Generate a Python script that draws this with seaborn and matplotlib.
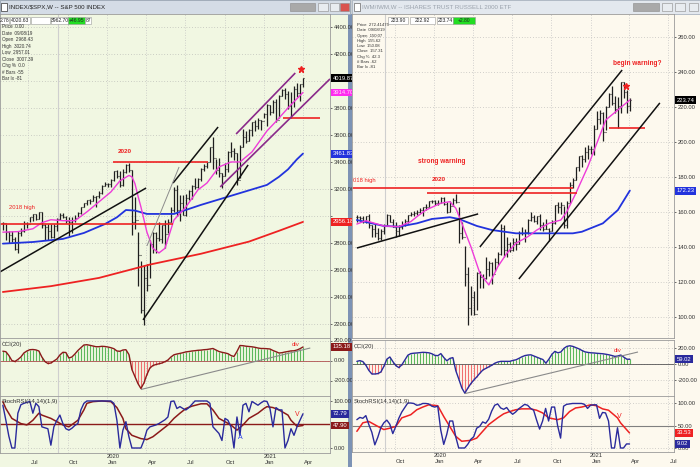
import pandas as pd
import matplotlib
matplotlib.use("Agg")
import matplotlib.pyplot as plt
import matplotlib.transforms as mtransforms
from matplotlib.patches import Rectangle
import seaborn as sns

# ---------------- data (weekly bars) ----------------
spx_dates = pd.date_range("2019-05-03", periods=101, freq="W-FRI")
iwm_dates = pd.date_range("2019-07-05", periods=92, freq="W-FRI")

spx_high = [2954, 2938, 2892, 2891, 2841, 2885, 2910, 2964, 2955, 2996,
            3017, 3018, 3028, 3027, 2944, 2943, 2939, 2940, 2985, 3021,
            3022, 3002, 2993, 2993, 3008, 3027, 3067, 3098, 3120, 3127,
            3154, 3150, 3183, 3226, 3248, 3247, 3276, 3330, 3337, 3333,
            3347, 3385, 3393, 3337, 3137, 2882, 2669, 2637, 2641, 2819,
            2880, 2879, 2955, 2933, 2968, 2981, 3068, 3211, 3233, 3156,
            3154, 3165, 3189, 3233, 3280, 3279, 3352, 3388, 3399, 3509,
            3588, 3425, 3429, 3320, 3393, 3482, 3550, 3502, 3465, 3529,
            3646, 3628, 3645, 3699, 3712, 3726, 3711, 3760, 3826, 3820,
            3861, 3870, 3894, 3937, 3950, 3928, 3915, 3960, 3983, 3978,
            4021]
spx_low = [2898, 2825, 2801, 2805, 2750, 2728, 2855, 2880, 2912, 2952,
           2966, 2970, 2976, 2914, 2822, 2825, 2834, 2836, 2892, 2969,
           2985, 2946, 2855, 2874, 2952, 2991, 3014, 3066, 3078, 3091,
           3113, 3070, 3134, 3166, 3221, 3213, 3215, 3258, 3281, 3214,
           3223, 3316, 3328, 2856, 2902, 2478, 2281, 2192, 2447, 2538,
           2727, 2727, 2816, 2797, 2766, 2871, 2957, 3031, 2999, 2965,
           3004, 2999, 3115, 3128, 3200, 3205, 3260, 3330, 3355, 3397,
           3349, 3310, 3292, 3209, 3297, 3323, 3440, 3415, 3233, 3279,
           3511, 3543, 3554, 3594, 3633, 3647, 3636, 3723, 3663, 3749,
           3764, 3694, 3725, 3885, 3865, 3789, 3723, 3805, 3884, 3854,
           3955]
spx_close = [2946, 2881, 2860, 2826, 2752, 2873, 2887, 2950, 2942, 2990,
             3014, 2977, 3026, 2932, 2919, 2889, 2847, 2926, 2979, 3007,
             2992, 2962, 2952, 2970, 2986, 3023, 3067, 3093, 3120, 3110,
             3141, 3146, 3169, 3221, 3240, 3235, 3265, 3330, 3295, 3226,
             3328, 3380, 3338, 2954, 2972, 2711, 2305, 2541, 2489, 2790,
             2875, 2837, 2831, 2930, 2864, 2955, 3044, 3194, 3041, 3098,
             3009, 3130, 3185, 3225, 3216, 3271, 3351, 3373, 3397, 3508,
             3427, 3341, 3319, 3298, 3348, 3477, 3484, 3465, 3270, 3510,
             3585, 3558, 3638, 3699, 3663, 3709, 3703, 3756, 3825, 3768,
             3841, 3714, 3887, 3934, 3907, 3811, 3842, 3943, 3913, 3975,
             4020]

spx_ma10_wk = [0, 5, 10, 13, 16, 20, 24, 28, 32, 36, 39, 42, 43, 44, 45, 46, 48,
               50, 52, 54, 56, 57, 61, 65, 68, 72, 76, 79, 83, 88, 91, 95, 100]
spx_ma10 = [2880, 2884, 2905, 2950, 2972, 2965, 2965, 3030, 3104, 3178, 3260, 3300,
            3290, 3240, 3150, 3067, 2880, 2760, 2726, 2760, 2900, 2970, 3067, 3193,
            3244, 3363, 3400, 3400, 3474, 3630, 3700, 3800, 3915]
spx_ma40_wk = [0, 10, 20, 27, 34, 38, 41, 44, 48, 57, 66, 77, 88, 92, 95, 98, 100]
spx_ma40 = [2795, 2807, 2830, 2874, 2940, 2990, 3044, 3040, 3015, 3015, 3082, 3156,
            3230, 3290, 3345, 3420, 3462]
spx_ma200_wk = [0, 16, 32, 49, 66, 82, 92, 100]
spx_ma200 = [2437, 2480, 2541, 2640, 2720, 2810, 2890, 2956]

spx_cci = [93, 88, 50, 0, -10, 10, 35, 75, 95, 108,
           110, 106, 95, 35, -10, -30, -25, -5, 15, 55,
           82, 80, 25, 35, 65, 100, 128, 155, 158, 152,
           145, 138, 138, 142, 140, 135, 128, 118, 95, 92,
           105, 108, 60, -90, -160, -230, -280, -225, -140, -75,
           -50, -40, -33, -25, -12, 5, 35, 57, 65, 71,
           78, 86, 90, 95, 98, 102, 104, 108, 110, 115,
           120, 105, 90, 82, 76, 68, 50, 40, 90, 150,
           148, 143, 140, 137, 132, 125, 120, 120, 118, 115,
           100, 88, 75, 78, 85, 90, 96, 97, 105, 118,
           135.18]
spx_k = [91, 59, 25, 0, 0, 74, 92, 95, 97, 99,
         74, 95, 88, 45, 43, 41, 6, 45, 59, 70,
         52, 41, 38, 42, 48, 52, 81, 95, 100, 100,
         100, 100, 100, 100, 100, 100, 100, 95, 59, 0,
         38, 56, 24, 0, 0, 0, 0, 16, 38, 45,
         47, 49, 52, 56, 60, 66, 99, 100, 84, 88,
         84, 81, 86, 93, 100, 100, 100, 100, 100, 95,
         45, 38, 31, 16, 63, 59, 45, 0, 66, 27,
         91, 95, 77, 99, 95, 91, 96, 100, 99, 84,
         45, 86, 81, 81, 0, 16, 41, 27, 45, 59,
         72.79]
spx_d_wk = [0, 1, 3, 6, 8, 10, 12, 13, 16, 18, 20, 22, 25, 27, 28, 30, 33, 36, 38, 40,
            41, 43, 46, 48, 50, 52, 55, 57, 59, 61, 63, 66, 68, 70, 72, 76, 78, 80,
            82, 85, 87, 88, 90, 92, 95, 96, 98, 100]
spx_d = [98.6, 84, 63, 52, 49, 59, 74, 70, 63, 56, 49, 45, 59, 81, 95, 98.6, 100, 98.6,
         86, 63, 41, 27, 20, 18, 24, 34, 49, 63, 74, 84, 89, 94, 94, 81, 63, 49, 38, 49,
         63, 74, 84, 88, 86, 81, 70, 59, 46, 47.9]

iwm_high = [158.0, 157.6, 157.8, 157.8, 158.6, 152.5, 153.0, 151.0, 150.0, 153.0,
            158.6, 158.5, 156.0, 154.0, 152.5, 154.8, 155.8, 158.3, 160.0, 160.8,
            161.3, 162.5, 162.9, 164.4, 166.2, 167.1, 167.0, 166.8, 168.5, 168.8,
            165.5, 166.2, 167.8, 170.0, 163.0, 154.5, 140.5, 128.3, 117.5, 115.0,
            125.5, 126.5, 124.5, 134.0, 132.0, 131.5, 133.8, 137.0, 153.0, 152.5,
            145.9, 143.0, 145.0, 145.2, 149.0, 151.2, 150.0, 156.1, 160.0, 158.4,
            157.9, 158.7, 154.3, 155.7, 150.6, 155.3, 163.9, 165.5, 165.7, 163.4,
            166.0, 176.9, 179.5, 185.8, 191.8, 192.7, 197.3, 198.3, 197.5, 209.8,
            217.9, 218.0, 217.0, 220.7, 228.1, 231.9, 226.2, 225.4, 234.5, 234.0,
            229.5, 224.9]
iwm_low = [154.5, 154.6, 153.8, 153.8, 151.0, 145.5, 145.5, 144.2, 144.0, 147.3,
           152.0, 154.0, 151.5, 145.8, 146.5, 150.2, 151.8, 153.5, 157.5, 157.8,
           158.0, 159.4, 157.7, 161.0, 163.0, 165.0, 163.9, 163.8, 164.9, 163.9,
           159.4, 160.1, 163.3, 165.3, 142.3, 144.5, 117.5, 95.7, 101.0, 101.0,
           104.0, 116.7, 116.3, 121.6, 123.3, 118.8, 126.0, 129.5, 135.5, 134.5,
           134.5, 136.9, 137.5, 138.3, 141.6, 146.6, 143.1, 147.4, 154.7, 154.3,
           153.2, 149.5, 149.0, 150.2, 143.3, 149.0, 153.4, 159.6, 159.0, 151.1,
           150.9, 165.2, 173.6, 178.3, 183.5, 185.5, 188.6, 190.4, 193.3, 192.7,
           207.6, 210.0, 200.5, 206.7, 219.8, 221.0, 216.8, 208.0, 216.7, 224.9,
           216.4, 217.5]
iwm_close = [157.3, 156.6, 154.6, 157.6, 152.4, 150.2, 147.9, 144.9, 149.0, 152.2,
             158.0, 154.5, 151.6, 149.0, 151.3, 153.0, 155.1, 158.0, 158.8, 159.4,
             159.8, 161.0, 162.6, 162.6, 166.0, 166.4, 165.3, 165.1, 167.9, 164.7,
             159.9, 163.4, 167.0, 165.6, 147.9, 145.6, 124.5, 105.3, 111.4, 101.5,
             125.2, 123.1, 122.0, 127.7, 131.0, 124.5, 131.5, 136.0, 151.0, 138.2,
             141.5, 138.3, 142.6, 141.6, 148.0, 148.1, 148.6, 155.5, 157.2, 154.8,
             157.6, 152.5, 150.4, 150.3, 148.9, 153.6, 163.7, 162.8, 163.8, 152.8,
             165.1, 175.5, 178.3, 185.5, 191.7, 190.0, 194.5, 196.0, 196.1, 207.6,
             213.0, 216.6, 205.9, 220.2, 227.3, 222.5, 218.9, 220.8, 234.4, 228.6,
             220.6, 223.7]

iwm_ma10_wk = [0, 3, 9, 14, 18, 20, 23, 28, 31, 33, 35, 38, 41, 44, 47, 50, 53, 57,
               60, 64, 68, 70, 73, 77, 80, 83, 87, 91]
iwm_ma10 = [153.1, 155.0, 152.0, 151.6, 154.5, 157.3, 161.1, 165.0, 165.9, 162.1,
            153.5, 140.2, 125.0, 118.3, 128.8, 136.4, 142.1, 145.9, 149.7, 153.5,
            155.4, 160.2, 170.7, 185.9, 199.3, 212.6, 218.3, 224.0]
iwm_ma40_wk = [0, 9, 14, 20, 25, 31, 34, 40, 45, 53, 64, 72, 75, 82, 87, 91]
iwm_ma40 = [155.4, 152.0, 151.6, 153.5, 156.0, 157.0, 156.0, 152.0, 149.7, 147.8,
            147.8, 147.8, 148.7, 153.5, 161.1, 172.23]

iwm_cci = [33, 42, 30, -15, -80, -125, -125, -120, -100, -30,
           60, 88, 30, -20, -45, -10, 50, 110, 130, 135,
           138, 142, 146, 144, 140, 128, 108, 104, 130, 80,
           40, 70, 80, -85, -190, -300, -365, -300, -245, -200,
           -160, -115, -75, -55, -35, -15, 10, 25, 33, 33,
           33, 33, 45, 52, 70, 90, 105, 112, 115, 100,
           85, 70, 56, 10, 60, 120, 158, 140, 150, 195,
           220, 228, 220, 205, 190, 170, 152, 145, 140, 138,
           134, 131, 128, 122, 115, 106, 95, 100, 112, 85,
           60, 59.02]
iwm_k = [63, 68, 66, 72, 52, 35, 7, 24, 45, 56,
         62, 53, 32, 48, 66, 80, 90, 100, 100, 99,
         95, 96, 99, 99, 98, 93, 91, 93, 40, 8,
         30, 60, 60, 25, 0, 0, 0, 8, 19, 25,
         44, 48, 58, 55, 64, 82, 95, 98, 89, 86,
         90, 81, 75, 80, 87, 92, 97, 95, 88, 84,
         62, 42, 60, 88, 60, 91, 91, 50, 22, 93,
         97, 98, 99, 99, 99, 99, 97, 88, 95, 96,
         96, 66, 79, 78, 60, 0, 0, 45, 0, 0,
         9, 9.02]
iwm_d_wk = [0, 2, 4, 7, 9, 11, 13, 15, 18, 20, 22, 24, 27, 29, 31, 33, 35, 38, 40, 42,
            44, 47, 49, 51, 53, 55, 58, 60, 62, 64, 67, 69, 71, 73, 75, 78, 80, 82,
            84, 87, 88, 91]
iwm_d = [37, 56, 59, 48, 41, 44, 48, 67, 74, 85, 91, 96, 94, 70, 48, 26, 15, 17, 22, 37,
         52, 67, 76, 81, 85, 87, 87, 84, 78, 67, 63, 67, 81, 89, 91, 96, 94, 87, 84, 67,
         56, 33.53]

spx_quarters = ["2019-07-01", "2019-10-01", "2020-01-01", "2020-04-01",
                "2020-07-01", "2020-10-01", "2021-01-01", "2021-04-01"]
spx_qlabels = ["\nJul", "\nOct", "2020\nJan", "\nApr", "\nJul", "\nOct", "2021\nJan", "\nApr"]
iwm_quarters = ["2019-10-01", "2020-01-01", "2020-04-01", "2020-07-01",
                "2020-10-01", "2021-01-01", "2021-04-01", "2021-07-01"]
iwm_qlabels = ["\nOct", "2020\nJan", "\nApr", "\nJul", "\nOct", "2021\nJan", "\nApr", "\nJul"]

# ---------------- style ----------------
sns.set_theme(style="white")
plt.rcParams["font.family"] = ["Liberation Sans", "DejaVu Sans"]

W, H = 700, 467
LEFT_BG = "#f1f7e2"
RIGHT_BG = "#fdf9ee"
BAR_C = "#1e1e1e"
MAGENTA = "#ee3bd9"
BLUE = "#2233dd"
RED = "#ee2222"
DKRED = "#8b1a1a"
NAVY = "#2a2a9c"
FS = 4.2

fig = plt.figure(figsize=(W / 100, H / 100), dpi=100)
fig.patch.set_facecolor("#c9cdd2")

chrome = fig.add_axes([0, 0, 1, 1], zorder=-5)
chrome.set_xlim(0, W)
chrome.set_ylim(H, 0)
chrome.axis("off")

overlay = fig.add_axes([0, 0, 1, 1], zorder=30)
overlay.set_xlim(0, W)
overlay.set_ylim(H, 0)
overlay.axis("off")
overlay.patch.set_alpha(0)


def px_axes(l, t, r, b):
    return fig.add_axes([l / W, 1 - b / H, (r - l) / W, (b - t) / H])


def draw_bars(ax, dates, hi, lo, cl):
    op = [cl[0]] + list(cl[:-1])
    tick = pd.Timedelta(days=3)
    ax.vlines(dates, lo, hi, color=BAR_C, lw=0.9)
    ax.hlines(op, dates - tick, dates, color=BAR_C, lw=0.8)
    ax.hlines(cl, dates, dates + tick, color=BAR_C, lw=0.8)


def line(ax, x, y, color, lw=1.1):
    sns.lineplot(x=list(x), y=list(y), ax=ax, color=color, lw=lw, legend=False, sort=False)


def seg(ax, d0, v0, d1, v1, color, lw=1.0):
    ax.plot([pd.Timestamp(d0), pd.Timestamp(d1)], [v0, v1], color=color, lw=lw, solid_capstyle="butt")


def setup(ax, bg, xlim, ylim, yticks, quarters, cursor, hide=()):
    ax.set_facecolor(bg)
    ax.set_xlim(pd.Timestamp(xlim[0]), pd.Timestamp(xlim[1]))
    ax.set_ylim(*ylim)
    ax.set_xlabel("")
    ax.set_ylabel("")
    ax.yaxis.tick_right()
    ax.set_yticks(yticks)
    ax.set_yticklabels(["" if v in hide else f"{v:.2f}" for v in yticks])
    ax.tick_params(axis="y", labelsize=FS, length=1.5, width=0.5, pad=1, colors="#333333")
    ax.tick_params(axis="x", length=0, labelbottom=False)
    for s in ax.spines.values():
        s.set_color("#9a9a9a")
        s.set_linewidth(0.6)
    for v in yticks:
        ax.axhline(v, color="#a8a8a8", lw=0.5, ls=(0, (1, 3)), zorder=0)
    for q in quarters:
        ax.axvline(pd.Timestamp(q), color="#c4c4c4", lw=0.6, ls=(0, (1, 2)), zorder=0)
    ax.axvline(pd.Timestamp(cursor), color="#cfcfcf", lw=0.8, zorder=0)


def tag(ax, y, text, fc, tc="white"):
    tr = mtransforms.blended_transform_factory(ax.transAxes, ax.transData) + \
        mtransforms.ScaledTranslation(2 / 72, 0, fig.dpi_scale_trans)
    ax.text(1.0, y, text, transform=tr, fontsize=FS, color=tc, ha="left", va="center",
            bbox=dict(boxstyle="square,pad=0.25", fc=fc, ec="none"), clip_on=False, zorder=20)


def date_axis(ax, quarters, labels):
    ax.set_xticks([pd.Timestamp(q) + pd.Timedelta(days=14) for q in quarters])
    ax.set_xticklabels(labels, fontsize=FS, linespacing=1.05, color="#333333")
    ax.tick_params(axis="x", labelbottom=True, length=0, pad=1)


# ---------------- chrome ----------------
chrome.add_patch(Rectangle((0, 14), 350, H - 14, fc=LEFT_BG, ec="none"))
chrome.add_patch(Rectangle((352, 14), 348, H - 14, fc=RIGHT_BG, ec="none"))
chrome.add_patch(Rectangle((348, 14), 4, H - 14, fc="#7d93b5", ec="none"))
chrome.add_patch(Rectangle((0, 0), 350, 14, fc="#d4dce6", ec="#9aa6b4", lw=0.6))
chrome.add_patch(Rectangle((352, 0), 348, 14, fc="#e3e8ee", ec="#aab4c0", lw=0.6))
chrome.add_patch(Rectangle((1, 3), 6, 8, fc="white", ec="#333", lw=0.5))
chrome.add_patch(Rectangle((354, 3), 6, 8, fc="white", ec="#666", lw=0.5))
chrome.text(9, 7, "INDEX/$SPX,W -- S&P 500 INDEX", fontsize=4.4, color="#222", va="center")
chrome.text(362, 7, "IWM/IWM,W -- ISHARES TRUST RUSSELL 2000 ETF", fontsize=4.4,
            color="#9aa2ac", va="center")
for x0, x1, fc in [(290, 315, "#a9a9a9"), (318, 328, "#e8ecf0"), (330, 339, "#e8ecf0"),
                   (340, 349, "#d9534f"), (633, 659, "#a9a9a9"), (662, 672, "#e8ecf0"),
                   (675, 685, "#e8ecf0"), (689, 698, "#e8ecf0")]:
    chrome.add_patch(Rectangle((x0, 3), x1 - x0, 8, fc=fc, ec="#8a8a8a", lw=0.4))

# ---------------- left window: S&P 500 ----------------
lx = ("2019-04-26 08:00", "2021-06-04")
l_main = px_axes(0, 14, 330, 338)
l_cci = px_axes(0, 338, 330, 396)
l_st = px_axes(0, 396, 330, 453)

draw_bars(l_main, spx_dates, spx_high, spx_low, spx_close)
line(l_main, spx_dates[spx_ma200_wk], spx_ma200, RED, 1.3)
line(l_main, spx_dates[spx_ma40_wk], spx_ma40, BLUE, 1.3)
line(l_main, spx_dates[spx_ma10_wk], spx_ma10, MAGENTA, 1.0)
seg(l_main, "2019-04-26", 2940, "2020-06-03", 2940, RED, 1.2)
seg(l_main, "2020-01-15", 3400, "2020-08-23", 3400, RED, 1.2)
seg(l_main, "2021-02-15", 3726, "2021-05-12", 3726, RED, 1.2)
seg(l_main, "2019-04-26", 2585, "2020-04-01", 3207, "#111111", 1.1)
seg(l_main, "2020-03-25", 2230, "2020-11-25", 3378, "#111111", 1.1)
seg(l_main, "2020-06-03", 3244, "2020-09-16", 3659, "#111111", 1.1)
seg(l_main, "2020-04-03", 2778, "2020-06-17", 3363, "#8c8c8c", 0.7)
seg(l_main, "2020-10-28", 3607, "2021-03-15", 4059, "#8a2a8a", 1.2)
seg(l_main, "2020-09-21", 3215, "2021-06-04", 4015, "#8a2a8a", 1.2)
l_main.text(pd.Timestamp("2020-02-12"), 3474, "2020", color=RED, fontsize=4.6,
            fontweight="bold", ha="center", va="center")
l_main.text(pd.Timestamp("2019-06-17"), 3059, "2018 high", color=RED, fontsize=4.2,
            ha="center", va="center")
l_main.plot(pd.Timestamp("2021-03-29"), 4089, marker="*", color=RED, ms=4.5, mec=RED)
setup(l_main, LEFT_BG, lx, (2096, 4496), list(range(2200, 4401, 200)), spx_quarters,
      "2019-09-08", hide=(3000, 4000))
tag(l_main, 4019.87, "4019.87", "black")
tag(l_main, 3914.70, "3914.70", "#ff2bf0", "#ffe0fb")
tag(l_main, 3461.83, "3461.83", BLUE)
tag(l_main, 2956.18, "2956.18", RED)

l_cci.vlines(spx_dates, 0, spx_cci, colors=["#5cb85c" if v >= 0 else "#f07070" for v in spx_cci], lw=0.8)
l_cci.axhline(0, color="#b05050", lw=0.6)
line(l_cci, spx_dates, spx_cci, DKRED, 1.0)
seg(l_cci, "2020-03-20", -290, "2021-04-19", 125, "#8a8a8a", 0.8)
l_cci.text(pd.Timestamp("2021-03-15"), 158, "div", color=RED, fontsize=4.4, ha="center", va="center")
setup(l_cci, LEFT_BG, lx, (-355, 225), [-200, 0, 200], spx_quarters, "2019-09-08")
l_cci.text(0.005, 0.93, "CCI(20)", transform=l_cci.transAxes, fontsize=FS, color="#333", va="top")
tag(l_cci, 135.18, "135.18", DKRED)

l_st.axhline(50, color=DKRED, lw=1.0)
line(l_st, spx_dates[spx_d_wk], spx_d, DKRED, 1.1)
line(l_st, spx_dates, spx_k, NAVY, 1.0)
l_st.text(pd.Timestamp("2021-03-20"), 72, "V", color=RED, fontsize=5, ha="center", va="center")
l_st.text(pd.Timestamp("2020-11-06"), 22, "A", color="#2a40ee", fontsize=5, ha="center", va="center")
setup(l_st, LEFT_BG, lx, (-10.6, 110.6), [0, 100], spx_quarters, "2019-09-08")
l_st.text(0.005, 0.95, "StochRSI(14,14)(1,9)", transform=l_st.transAxes, fontsize=FS, color="#333", va="top")
tag(l_st, 72.79, "72.79", NAVY)
tag(l_st, 47.90, "47.90", DKRED)
date_axis(l_st, spx_quarters, spx_qlabels)

# ---------------- right window: Russell 2000 ETF ----------------
rx = ("2019-06-23 16:00", "2021-07-14")
r_main = px_axes(352, 14, 674, 338)
r_cci = px_axes(352, 340, 674, 396)
r_st = px_axes(352, 396, 674, 452)

draw_bars(r_main, iwm_dates, iwm_high, iwm_low, iwm_close)
line(r_main, iwm_dates[iwm_ma40_wk], iwm_ma40, BLUE, 1.3)
line(r_main, iwm_dates[iwm_ma10_wk], iwm_ma10, MAGENTA, 1.0)
seg(r_main, "2019-06-23", 173.7, "2020-11-20", 173.7, RED, 1.2)
seg(r_main, "2019-12-16", 170.9, "2020-11-30", 170.9, RED, 1.2)
seg(r_main, "2021-02-12", 208, "2021-05-07", 208, RED, 1.2)
seg(r_main, "2019-07-05", 139.4, "2020-04-13", 158.9, "#111111", 1.1)
seg(r_main, "2020-04-17", 140.0, "2021-03-15", 241.1, "#111111", 1.1)
seg(r_main, "2020-07-17", 121.7, "2021-06-11", 222.3, "#111111", 1.1)
r_main.text(pd.Timestamp("2020-01-20"), 188.6, "strong warning", color=RED, fontsize=4.7,
            fontweight="bold", ha="center", va="center")
r_main.text(pd.Timestamp("2020-01-13"), 178.3, "2020", color=RED, fontsize=4.6,
            fontweight="bold", ha="center", va="center")
r_main.text(pd.Timestamp("2019-06-26"), 177.7, "018 high", color=RED, fontsize=4.2,
            ha="left", va="center")
r_main.text(pd.Timestamp("2021-04-19"), 244.6, "begin warning?", color=RED, fontsize=4.7,
            fontweight="bold", ha="center", va="center")
r_main.plot(pd.Timestamp("2021-03-24"), 232, marker="*", color=RED, ms=4.5, mec=RED)
setup(r_main, RIGHT_BG, rx, (88, 273.1), list(range(100, 261, 20)), iwm_quarters, "2019-09-08")
tag(r_main, 223.74, "223.74", "black")
tag(r_main, 172.23, "172.23", BLUE)

r_cci.vlines(iwm_dates, 0, iwm_cci, colors=["#5cb85c" if v >= 0 else "#f07070" for v in iwm_cci], lw=0.8)
r_cci.axhline(0, color="#555555", lw=0.6)
line(r_cci, iwm_dates, iwm_cci, NAVY, 1.0)
seg(r_cci, "2020-03-13", -370, "2021-04-21", 150, "#8a8a8a", 0.8)
r_cci.text(pd.Timestamp("2021-03-05"), 165, "div", color=RED, fontsize=4.4, ha="center", va="center")
setup(r_cci, RIGHT_BG, rx, (-400, 300), [-200, 0, 200], iwm_quarters, "2019-09-08")
r_cci.text(0.005, 0.93, "CCI(20)", transform=r_cci.transAxes, fontsize=FS, color="#333", va="top")
tag(r_cci, 59.02, "59.02", NAVY)

r_st.axhline(50, color="#808080", lw=0.8)
line(r_st, iwm_dates[iwm_d_wk], iwm_d, RED, 1.1)
line(r_st, iwm_dates, iwm_k, NAVY, 1.0)
r_st.text(pd.Timestamp("2021-03-10"), 70, "V", color=RED, fontsize=5, ha="center", va="center")
setup(r_st, RIGHT_BG, rx, (-8.9, 115.6), [0, 50, 100], iwm_quarters, "2019-09-08")
r_st.text(0.005, 0.95, "StochRSI(14,14)(1,9)", transform=r_st.transAxes, fontsize=FS, color="#333", va="top")
tag(r_st, 33.53, "33.53", RED)
tag(r_st, 9.02, "9.02", NAVY)
date_axis(r_st, iwm_quarters, iwm_qlabels)

# ---------------- quote strips and data windows ----------------
for x0, x1, txt, fc in [(0, 9, "2.78", "white"), (10, 30, "4020.63", "white"), (31, 50, "", "white"),
                        (51, 68, "3962.70", "white"), (68, 85, "+46.95", "#22dd22"), (85, 91, "87", "white"),
                        (388, 408, "223.90", "white"), (410, 435, "222.92", "white"),
                        (437, 453, "223.74", "white"), (453, 475, "+2.80", "#22dd22")]:
    overlay.add_patch(Rectangle((x0, 17), x1 - x0, 7, fc=fc, ec="#9a9a9a", lw=0.4))
    overlay.text((x0 + x1) / 2, 20.5, txt, fontsize=3.6, color="#222", ha="center", va="center")

spx_info = ["Price  0.00", "Date  09/08/19", "Open  2968.43", "High  3020.74", "Low  2957.01",
            "Close  3007.39", "Chg %  0.0", "# Bars -55", "Bar Ix -81"]
iwm_info = ["Price  272.41475", "Date  09/08/19", "Open  150.07", "High  155.62", "Low  150.08",
            "Close  157.31", "Chg %  42.3", "# Bars -62", "Bar Ix -81"]
for i, s in enumerate(spx_info):
    overlay.text(1.5, 27 + i * 6.5, s, fontsize=3.3, color="#333", va="center")
for i, s in enumerate(iwm_info):
    overlay.text(357, 25 + i * 5.3, s, fontsize=3.1, color="#333", va="center")

fig.savefig("out.png", dpi=100, facecolor=fig.get_facecolor())
